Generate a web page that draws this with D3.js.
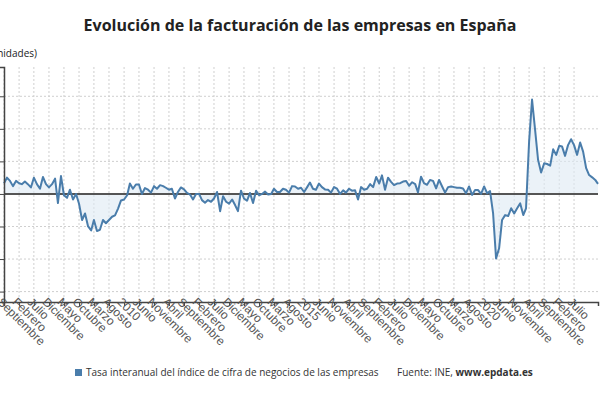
<!DOCTYPE html>
<html>
<head>
<meta charset="utf-8">
<script src="https://cdnjs.cloudflare.com/ajax/libs/d3/7.8.5/d3.min.js"></script>
<style>
body { margin: 0; background: #fff; }
svg { font-family: "Open Sans", "DejaVu Sans", sans-serif; }
</style>
</head>
<body>
<div id="chart"></div>
<script>
'use strict';
(function() {
// Tasa interanual mensual, desde septiembre de 2006
var values = [
  3.3,5,4,2.4,4,3.3,3,3.8,3,2,5,3,1.6,5.2,3,2,3,4.7,-2.8,5.5,
  -0.4,-1.2,1.3,-1.7,0,-3,-8,-6,-10,-11.2,-8,-11.4,-11,-8,-9,-8,-7,-6.6,-4.5,-2,
  -1.7,-0.4,3.2,1.6,2.9,2.9,0,1.8,1.3,0.4,2.4,1.6,2.7,2.4,1.9,1.3,1.6,-1.4,0.6,2,
  1.4,0.3,-0.2,-1.7,0,0,
  -1.9,-2.7,-1.9,-2.4,-1.4,0.6,-5.3,-0.7,-2.4,-3,-1.7,-3.5,-5.3,1,-1.4,-2.1,0.3,-2.8,1,-0.4,
  0,0.7,-0.2,0,1.6,0.6,0.6,1.6,1.3,0.4,2.4,2.3,1.6,1.9,0.6,2.1,3.5,1.6,1.3,3.2,
  2.1,1.4,1.3,0.4,2.1,1.6,0,1.1,0.4,1.6,1,1.1,-1.7,2.1,1.3,1.6,3,2.1,5.2,3.2,
  5.7,1.3,5,3.7,2.7,3.2,
  3.3,3.8,4,2.5,3.6,3,0.5,5.3,3.3,2.8,4.3,4,1.7,4.3,2.3,0.4,2.1,2.3,2.1,1.9,
  1.9,1.7,0.2,2.3,-0.3,1.2,1.2,0,2.3,0.2,0.9,-6,-19.8,-16.7,-8,-6.5,-6.8,-4.4,-6,-4.4,
  -2.9,-6.5,-4.4,16,29,19.7,10.5,6.6,9.4,9.2,8.7,13.7,12,14.8,14.6,11.7,15,16.8,15,12,
  15.8,13,7.9,5.8,5.1,4.3,3.1
];
var meses = ["Enero","Febrero","Marzo","Abril","Mayo","Junio","Julio","Agosto",
             "Septiembre","Octubre","Noviembre","Diciembre"];
var data = values.map(function(v, i) { return { date: new Date(2006, 8 + i, 1), value: v }; });

var width = 600, height = 400;
var mLeft = 4, mRight = 598, mTop = 67, mBottom = 302;

var svg = d3.select("#chart").append("svg")
  .attr("width", width).attr("height", height);

var x = d3.scaleTime()
  .domain([new Date(2006, 8, 1), new Date(2006, 8 + 198, 1)])
  .range([mLeft, mRight]);
var y = d3.scaleLinear().domain([-33.2, 39]).range([mBottom, mTop]);

var tickDates = d3.range(0, 191, 5).map(function(m) { return new Date(2006, 8 + m, 1); });
var yTicks = d3.range(-30, 31, 10);

// rejilla
svg.append("g").selectAll("line").data(tickDates).enter().append("line")
  .attr("x1", function(d) { return x(d); }).attr("x2", function(d) { return x(d); })
  .attr("y1", mTop).attr("y2", mBottom)
  .attr("stroke", "#cfcfcf").attr("stroke-dasharray", "2,2");
svg.append("g").selectAll("line").data(yTicks).enter().append("line")
  .attr("x1", mLeft).attr("x2", mRight)
  .attr("y1", function(d) { return y(d); }).attr("y2", function(d) { return y(d); })
  .attr("stroke", "#cfcfcf").attr("stroke-dasharray", "2,2");

svg.append("path").datum(data)
  .attr("fill", "#dde9f4").attr("fill-opacity", 0.6)
  .attr("d", d3.area().x(function(d) { return x(d.date); }).y0(y(0)).y1(function(d) { return y(d.value); }));

svg.append("line")
  .attr("x1", mLeft).attr("x2", mRight).attr("y1", y(0)).attr("y2", y(0))
  .attr("stroke", "#555").attr("stroke-width", 2);

svg.append("path").datum(data)
  .attr("fill", "none").attr("stroke", "#4a7dab").attr("stroke-width", 2)
  .attr("stroke-linejoin", "round")
  .attr("d", d3.line().x(function(d) { return x(d.date); }).y(function(d) { return y(d.value); }));

// ejes
var xAxis = svg.append("g").attr("transform", "translate(0," + mBottom + ")")
  .call(d3.axisBottom(x).tickValues(tickDates).tickSize(4)
    .tickFormat(function(d) { return d.getMonth() === 0 ? d.getFullYear() : meses[d.getMonth()]; }));
xAxis.select(".domain").attr("stroke", "#444").attr("stroke-width", 1.5);
xAxis.selectAll(".tick line").attr("stroke", "#444");
xAxis.selectAll("text")
  .attr("fill", "#555").attr("font-size", 12)
  .attr("text-anchor", "start").attr("dy", 0).attr("y", 6).attr("x", -5)
  .attr("transform", "rotate(45)");

var yAxis = svg.append("g").attr("transform", "translate(" + mLeft + ",0)")
  .call(d3.axisLeft(y).tickValues(yTicks).tickSize(4).tickFormat(""));
yAxis.select(".domain").attr("stroke", "#444").attr("stroke-width", 1.5);
yAxis.selectAll(".tick line").attr("stroke", "#444");

// textos
svg.append("text").attr("x", 300).attr("y", 31).attr("text-anchor", "middle")
  .attr("font-size", 16).attr("font-weight", "bold").attr("fill", "#222")
  .text("Evolución de la facturación de las empresas en España");
svg.append("text").attr("x", 37).attr("y", 57).attr("text-anchor", "end")
  .attr("font-size", 10).attr("fill", "#222").text("(Unidades)");

var legend = svg.append("g").attr("transform", "translate(75,376)");
legend.append("rect").attr("x", 0).attr("y", -7).attr("width", 7).attr("height", 7).attr("fill", "#4a7dab");
legend.append("text").attr("x", 11).attr("y", 0).attr("font-size", 10).attr("fill", "#333")
  .text("Tasa interanual del índice de cifra de negocios de las empresas");
var src = svg.append("text").attr("x", 397).attr("y", 376).attr("font-size", 10).attr("fill", "#333");
src.append("tspan").text("Fuente: INE, ");
src.append("tspan").attr("font-weight", "bold").text("www.epdata.es");
})();
</script>
</body>
</html>
